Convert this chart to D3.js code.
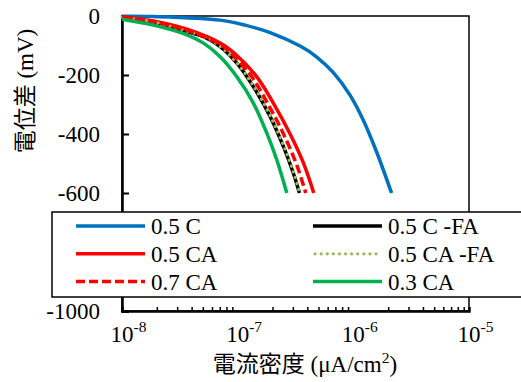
<!DOCTYPE html>
<html>
<head>
<meta charset="utf-8">
<script src="https://cdn.jsdelivr.net/npm/d3@7/dist/d3.min.js"></script>
<style>
  body { margin: 0; background: #fff; }
  svg { display: block; }
</style>
</head>
<body>
<svg id="chart" width="521" height="382"></svg>
<script>
// Polarization curves: current density (log axis) vs. potential difference (mV)
const SERIF = "Liberation Serif";
const CJK = "Noto Sans CJK JP";

const seriesNames = ["0.5 C", "0.5 C -FA", "0.5 CA", "0.5 CA -FA", "0.7 CA", "0.3 CA"];

const current_05C = [1.0e-8, 1.87e-8, 7.06e-8, 1.16e-7, 1.91e-7, 3.47e-7, 4.83e-7, 6.72e-7, 9.36e-7, 1.22e-6, 1.59e-6, 2.14e-6];
const potential_05C = [-1, -2, -14, -31, -56, -102, -139, -192, -268, -353, -461, -600];

const current_05C_FA = [1.0e-8, 1.87e-8, 3.64e-8, 5.07e-8, 7.06e-8, 9.84e-8, 1.37e-7, 1.91e-7, 2.49e-7, 3.03e-7, 3.42e-7];
const potential_05C_FA = [-5, -20, -53, -70, -104, -160, -240, -341, -443, -533, -600];

const current_05CA = [1.0e-8, 1.87e-8, 3.64e-8, 7.06e-8, 9.84e-8, 1.47e-7, 2.04e-7, 2.84e-7, 3.70e-7, 4.55e-7];
const potential_05CA = [-3, -17, -45, -92, -134, -207, -296, -400, -498, -600];

const current_05CA_FA = [1.0e-8, 1.87e-8, 3.64e-8, 5.07e-8, 7.06e-8, 9.84e-8, 1.38e-7, 1.92e-7, 2.51e-7, 3.05e-7, 3.44e-7];
const potential_05CA_FA = [-5, -20, -52, -69, -103, -159, -239, -340, -442, -532, -600];

const current_07CA = [1.0e-8, 1.87e-8, 3.64e-8, 7.06e-8, 9.84e-8, 1.33e-7, 1.85e-7, 2.49e-7, 3.24e-7, 3.88e-7];
const potential_07CA = [-3, -19, -49, -96, -146, -207, -302, -400, -505, -600];

const current_03CA = [1.0e-8, 1.87e-8, 3.64e-8, 5.07e-8, 7.06e-8, 9.84e-8, 1.37e-7, 1.79e-7, 2.18e-7, 2.66e-7];
const potential_03CA = [-11, -31, -64, -92, -138, -206, -296, -398, -488, -600];

const yTicks = [0, -200, -400, -600, -800, -1000];
const xDecades = [-8, -7, -6, -5];

const colors = ["#0070C0", "#000000", "#FF0000", "#9BBB59", "#FF0000", "#00B050"];
const dashes = [null, null, null, "0.1,6", "9,4", null];

const currents = [current_05C, current_05C_FA, current_05CA, current_05CA_FA, current_07CA, current_03CA];
const potentials = [potential_05C, potential_05C_FA, potential_05CA, potential_05CA_FA, potential_07CA, potential_03CA];

const series = seriesNames.map((name, k) => ({
  name,
  color: colors[k],
  dash: dashes[k],
  dotted: k === 3,
  points: currents[k].map((c, j) => ({ i: c, e: potentials[k][j] }))
}));

const svg = d3.select("#chart");
const plot = { left: 122, right: 469, top: 16, bottom: 311 };

const x = d3.scaleLog().domain([1e-8, 1e-5]).range([plot.left, plot.right]);
const y = d3.scaleLinear().domain([0, -1000]).range([plot.top, plot.bottom]);

// plot frame
svg.append("rect")
  .attr("x", plot.left).attr("y", plot.top)
  .attr("width", plot.right - plot.left).attr("height", plot.bottom - plot.top)
  .attr("fill", "none").attr("stroke", "#000").attr("stroke-width", 1.5);

// y axis (ticks pointing inward)
const yAxis = d3.axisRight(y).tickValues(yTicks).tickSize(7).tickFormat("");
const yg = svg.append("g").attr("transform", `translate(${plot.left},0)`).call(yAxis);
yg.select(".domain").attr("stroke-width", 2.5);
yg.selectAll(".tick line").attr("stroke-width", 2);

svg.append("g").selectAll("text").data(yTicks).join("text")
  .attr("font-family", SERIF)
  .attr("x", 100).attr("y", d => y(d) + 7.5)
  .attr("text-anchor", "end")
  .attr("font-size", 23)
  .attr("fill", "#000")
  .text(d => d);

// x axis: minor ticks pointing inward
const minorTicks = [];
for (let d = -8; d < -5; d++) {
  for (let m = 2; m <= 9; m++) minorTicks.push(m * Math.pow(10, d));
}
const xAxis = d3.axisTop(x).tickValues(minorTicks).tickSize(4).tickFormat("");
const xg = svg.append("g").attr("transform", `translate(0,${plot.bottom})`).call(xAxis);
xg.select(".domain").attr("stroke-width", 2.5);
xg.selectAll(".tick line").attr("stroke-width", 1.5);

// decade labels: 10 with superscript exponent
const xl = svg.append("g").selectAll("text").data(xDecades).join("text")
  .attr("font-family", SERIF)
  .attr("y", 342)
  .attr("font-size", 23)
  .attr("fill", "#000");
xl.append("tspan").text("10");
xl.append("tspan").attr("font-size", 15.5).attr("dy", -10).text(d => d);
xl.each(function (d) {
  const w = this.getSubStringLength(0, 2);
  d3.select(this).attr("x", x(Math.pow(10, d)) - w / 2);
});

// curves
const line = d3.line().x(p => x(p.i)).y(p => y(p.e)).curve(d3.curveCatmullRom.alpha(0.5));
svg.append("g").selectAll("path").data(series).join("path")
  .attr("d", s => line(s.points))
  .attr("fill", "none")
  .attr("stroke", s => s.color)
  .attr("stroke-width", s => s.dotted ? 3.2 : 3.5)
  .attr("stroke-dasharray", s => s.dash)
  .attr("stroke-linecap", s => s.dotted ? "round" : "butt");

// legend
const lg = svg.append("g");
lg.append("rect")
  .attr("x", 52).attr("y", 212).attr("width", 480).attr("height", 85)
  .attr("fill", "#fff").attr("stroke", "#000").attr("stroke-width", 1.5);
const legendItems = lg.selectAll("g.item").data(series).join("g")
  .attr("class", "item")
  .attr("transform", (s, k) => `translate(${k % 2 === 0 ? 76 : 313},${226 + Math.floor(k / 2) * 27.8})`);
legendItems.append("line")
  .attr("x1", s => s.dotted ? 2 : 0).attr("x2", 69).attr("y1", 0).attr("y2", 0)
  .attr("stroke", s => s.color)
  .attr("stroke-width", s => s.dotted ? 3.2 : 3.5)
  .attr("stroke-dasharray", s => s.dash)
  .attr("stroke-linecap", s => s.dotted ? "round" : "butt");
legendItems.append("text")
  .attr("font-family", SERIF)
  .attr("x", 75).attr("y", 8.3)
  .attr("font-size", 23)
  .attr("fill", "#000")
  .text(s => s.name);

// axis titles
const yt = svg.append("text")
  .attr("transform", "translate(33,91) rotate(-90)")
  .attr("text-anchor", "middle")
  .attr("font-size", 23)
  .attr("fill", "#000");
yt.append("tspan").attr("font-family", CJK).text("電位差");
yt.append("tspan").attr("font-family", SERIF).text(" (mV)");

const xt = svg.append("text")
  .attr("x", 305).attr("y", 372)
  .attr("text-anchor", "middle")
  .attr("font-size", 23)
  .attr("fill", "#000");
xt.append("tspan").attr("font-family", CJK).text("電流密度");
xt.append("tspan").attr("font-family", SERIF).text(" (μA/cm");
xt.append("tspan").attr("font-family", SERIF).attr("font-size", 15.5).attr("dy", -9).text("2");
xt.append("tspan").attr("font-family", SERIF).attr("dy", 9).text(")");
</script>
</body>
</html>
